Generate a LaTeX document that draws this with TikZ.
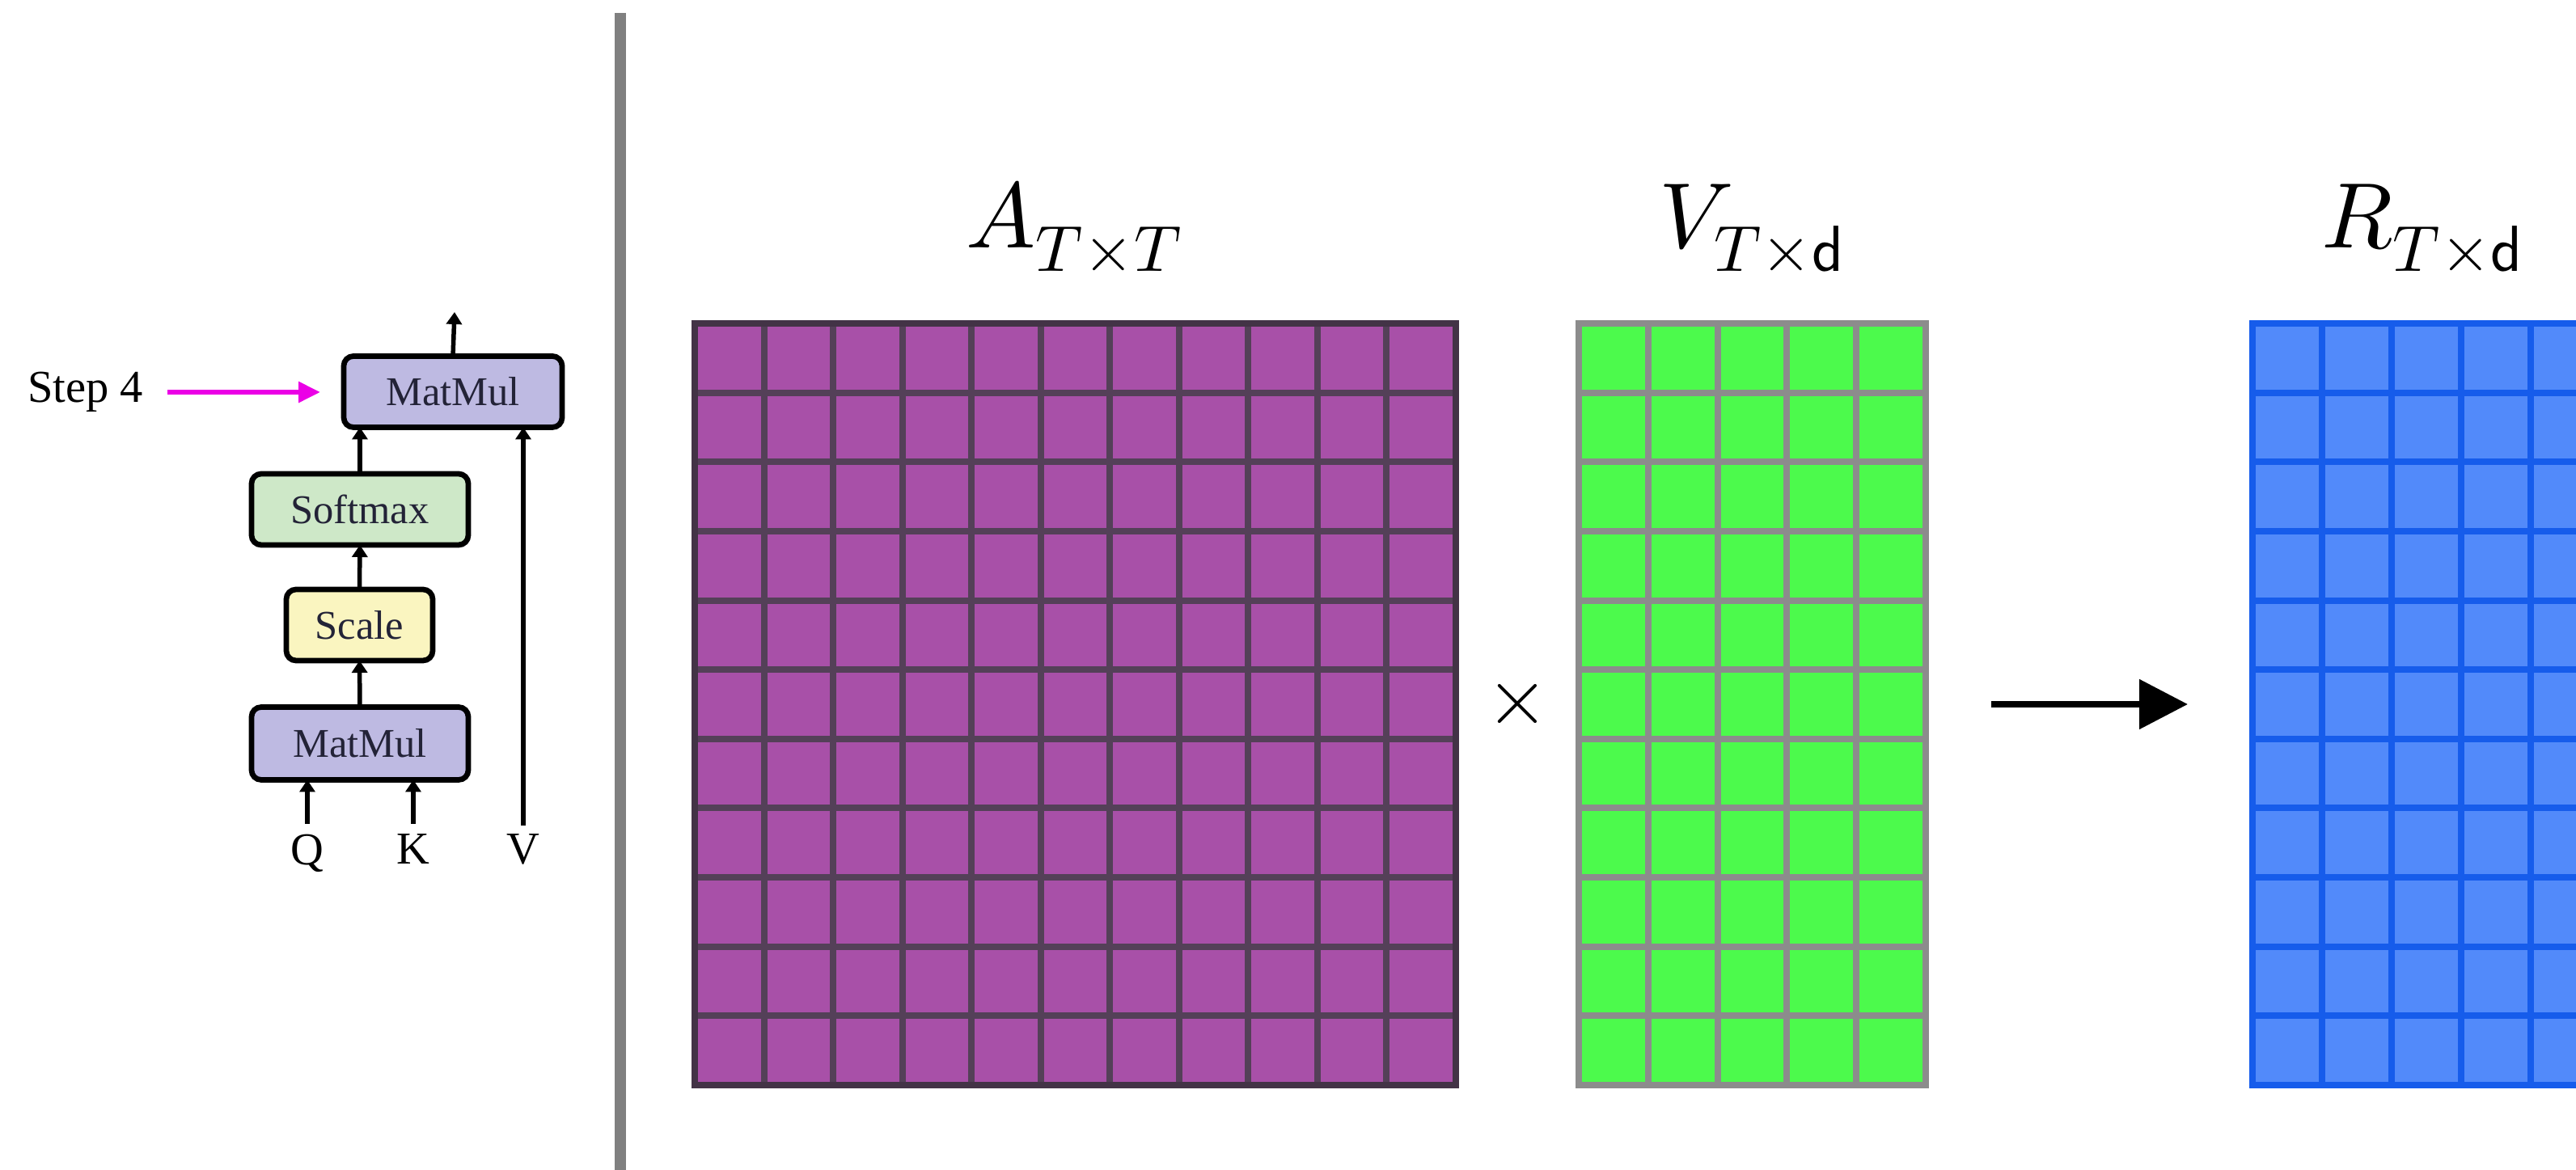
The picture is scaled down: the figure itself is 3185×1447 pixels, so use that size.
\documentclass[tikz,border=0pt]{standalone}
\usepackage{fontspec}
\usepackage{unicode-math}
\setmainfont{Liberation Serif}
\usetikzlibrary{arrows.meta,calc}
\definecolor{purpfill}{RGB}{168,80,168}
\definecolor{purpline}{RGB}{84,64,88}
\definecolor{grnfill}{RGB}{76,250,76}
\definecolor{grnline}{RGB}{140,140,140}
\definecolor{blufill}{RGB}{82,138,250}
\definecolor{bluline}{RGB}{22,92,235}
\definecolor{mmfill}{RGB}{190,186,226}
\definecolor{smfill}{RGB}{206,232,200}
\definecolor{scfill}{RGB}{250,245,192}
\definecolor{stepmag}{RGB}{235,0,230}
\definecolor{divgray}{RGB}{128,128,128}
\definecolor{boxtext}{RGB}{35,35,55}
\begin{document}
\begin{tikzpicture}[x=0.2pt,y=-0.2pt,
  opbox/.style={draw=black, line width=1.35pt, rounded corners=2.4pt, inner sep=0pt, outer sep=0pt,
    minimum height=17.6pt, font=\fontsize{10.1}{12}\selectfont, text=boxtext},
  flow/.style={line width=1.1pt, -{Triangle[length=3pt,width=3.8pt]}},
  lbl/.style={inner sep=0pt, font=\fontsize{11.3}{14}\selectfont},
  mlabel/.style={anchor=base, inner sep=0pt, font=\fontsize{23}{27}\selectfont},
  matbox/.style={inner sep=0pt, outer sep=0pt, minimum height=188.4pt},
  magarrow/.style={stepmag, line width=1.2pt, -{Triangle[length=5.4pt,width=5pt]}},
  bigarrow/.style={line width=1.7pt, -{Triangle[length=12pt,width=12pt]}},
  cellline/.style={line width=1.6pt}
]
\useasboundingbox (0,0) rectangle (3185,1447);
\clip (0,0) rectangle (3185,1447);

% divider
\coordinate (divtop) at (767,16);
\coordinate (divbot) at (767,1447);
\draw[divgray, line width=2.8pt] (divtop) -- (divbot);

% ---- left attention diagram ----
\node[opbox, fill=mmfill, minimum width=54pt] (mm2) at (560,484.5) {MatMul};
\node[opbox, fill=smfill, minimum width=53.6pt] (sm) at (445,630) {Softmax};
\node[opbox, fill=scfill, minimum width=36.2pt] (sc) at (444.5,773) {Scale};
\node[opbox, fill=mmfill, minimum width=53.6pt, minimum height=18pt] (mm1) at (445,919.5) {MatMul};

\node[lbl, anchor=west] (step) at (33,485) {Step 4};
\node[lbl, anchor=north] (Q) at (380,1031) {Q};
\node[lbl, anchor=north] (K) at (511,1031) {K};
\node[lbl, anchor=north] (Vin) at (647,1031) {V};
\coordinate (out) at (562,386);

\draw[flow] (mm1.north) -- (sc.south);
\draw[flow] (sc.north) -- (sm.south);
\draw[flow] (sm.north) -- (sm.north |- mm2.south);
\draw[flow] (mm2.north) -- (out);
\draw[flow, shorten <=2.4pt] (Q.north) -- (Q.north |- mm1.south);
\draw[flow, shorten <=2.4pt] (K.north) -- (K.north |- mm1.south);
\draw[flow, shorten <=2pt] (Vin.north) -- (Vin.north |- mm2.south);
\draw[magarrow, shorten <=5.8pt, shorten >=5.8pt] (step.east) -- (step.east -| mm2.west);

% ---- matrices ----
% A (11 x 11)
\node[matbox, fill=purpfill, minimum width=188.2pt] (A) at (1329.5,871) {};
\foreach \i in {1,...,10} {
  \draw[purpline, cellline] ({859+\i*941/11},400) -- ({859+\i*941/11},1342);
  \draw[purpline, cellline] (859,{400+\i*942/11}) -- (1800,{400+\i*942/11});
}
\draw[purpline!80!black, line width=1.5pt] (A.north west) rectangle (A.south east);

% V (11 x 5)
\node[matbox, fill=grnfill, minimum width=85.8pt] (V) at (2166.5,871) {};
\foreach \i in {1,...,4}
  \draw[grnline, cellline] ({1952+\i*429/5},400) -- ({1952+\i*429/5},1342);
\foreach \i in {1,...,10}
  \draw[grnline, cellline] (1952,{400+\i*942/11}) -- (2381,{400+\i*942/11});
\draw[grnline, line width=1.5pt] (V.north west) rectangle (V.south east);

% R (11 x 5, cut at the right edge)
\node[matbox, fill=blufill, minimum width=86pt] (R) at (3000,871) {};
\foreach \i in {1,...,4}
  \draw[bluline, cellline] ({2785+\i*86},400) -- ({2785+\i*86},1342);
\foreach \i in {1,...,10}
  \draw[bluline, cellline] (2785,{400+\i*942/11}) -- (3215,{400+\i*942/11});
\draw[bluline, line width=1.5pt] (R.north west) rectangle (R.south east);

% labels
\node[mlabel] (Alab) at (1329,307) {$A_{T\times T}$};
\node[mlabel] (Vlab) at (2167,307) {$V_{T\times \mathsf{d}}$};
\node[mlabel] (Rlab) at (2996,307) {$R_{T\times \mathsf{d}}$};

% operator and result arrow
\node[inner sep=0pt, font=\fontsize{20}{24}\selectfont] (times) at ($(A.east)!0.5!(V.west)$) {$\times$};
\draw[bigarrow, shorten <=16.2pt, shorten >=16pt] (V.east) -- (R.west);
\end{tikzpicture}
\end{document}
